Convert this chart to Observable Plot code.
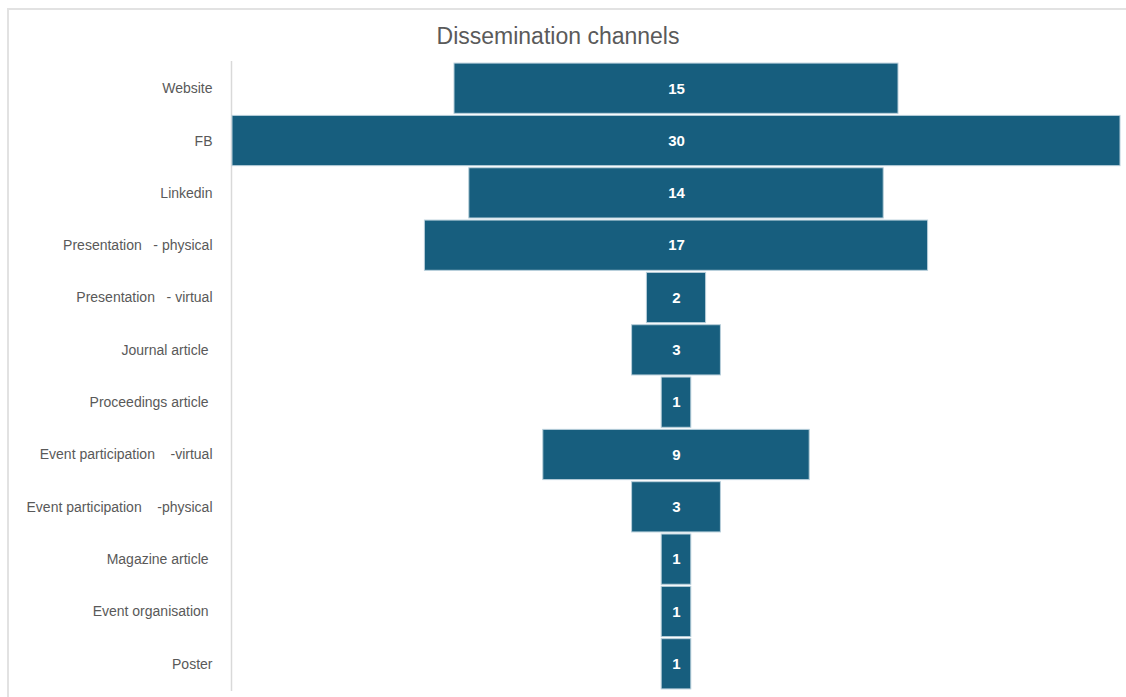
<!DOCTYPE html>
<html>
<head>
<meta charset="utf-8">
<script src="https://cdn.jsdelivr.net/npm/d3@7"></script>
<script src="https://cdn.jsdelivr.net/npm/@observablehq/plot@0.6"></script>
<style>
  body { margin: 0; background: #fff; }
  #wrap { position: relative; width: 1126px; height: 697px; overflow: hidden; }
  #frame { position: absolute; left: 7px; top: 8px; width: 1130px; height: 700px;
           border-left: 2px solid #e2e2e2; border-top: 2px solid #e2e2e2; }
  #title { position: absolute; top: 23px; left: 0; width: 1116px; text-align: center;
           font-family: 'Liberation Sans Narrow', 'Arial Narrow', 'Liberation Sans', sans-serif;
           font-size: 23px; color: #5a5a5a; }
  #chart { position: absolute; left: 0; top: 0; }
  svg text { white-space: pre; }
</style>
</head>
<body>
<div id="wrap">
  <div id="frame"></div>
  <div id="chart"></div>
  <div id="title">Dissemination channels</div>
</div>
<script>
const channels = [
  "Website",
  "FB",
  "Linkedin",
  "Presentation   - physical",
  "Presentation   - virtual",
  "Journal article ",
  "Proceedings article ",
  "Event participation    -virtual",
  "Event participation    -physical",
  "Magazine article ",
  "Event organisation ",
  "Poster"
];
const counts = [15, 30, 14, 17, 2, 3, 1, 9, 3, 1, 1, 1];

const data = channels.map((c, i) => ({channel: c, value: counts[i]}));
const font = "'Liberation Sans Narrow', 'Arial Narrow', 'Liberation Sans', sans-serif";

const chart = Plot.plot({
  width: 1126,
  height: 697,
  marginTop: 61,
  marginBottom: 6,
  marginLeft: 232,
  marginRight: 6,
  style: {fontFamily: font, background: "transparent"},
  x: {domain: [-15, 15], axis: null},
  y: {domain: channels, padding: 0.04, round: false, label: null},
  marks: [
    Plot.axisY({tickSize: 0, tickPadding: 20, fontSize: 14, color: "#595959", label: null}),
    Plot.ruleX([-15], {stroke: "#d9d9d9", strokeWidth: 1.5, dx: -1}),
    Plot.barX(data, {
      y: "channel",
      x1: d => -d.value / 2,
      x2: d => d.value / 2,
      fill: "#175e7e",
      stroke: "#b8cfdb",
      strokeWidth: 1
    }),
    Plot.text(data, {
      y: "channel",
      x: 0,
      text: d => String(d.value),
      fill: "white",
      fontWeight: "bold",
      fontSize: 15
    })
  ]
});
document.getElementById("chart").appendChild(chart);
</script>
</body>
</html>
